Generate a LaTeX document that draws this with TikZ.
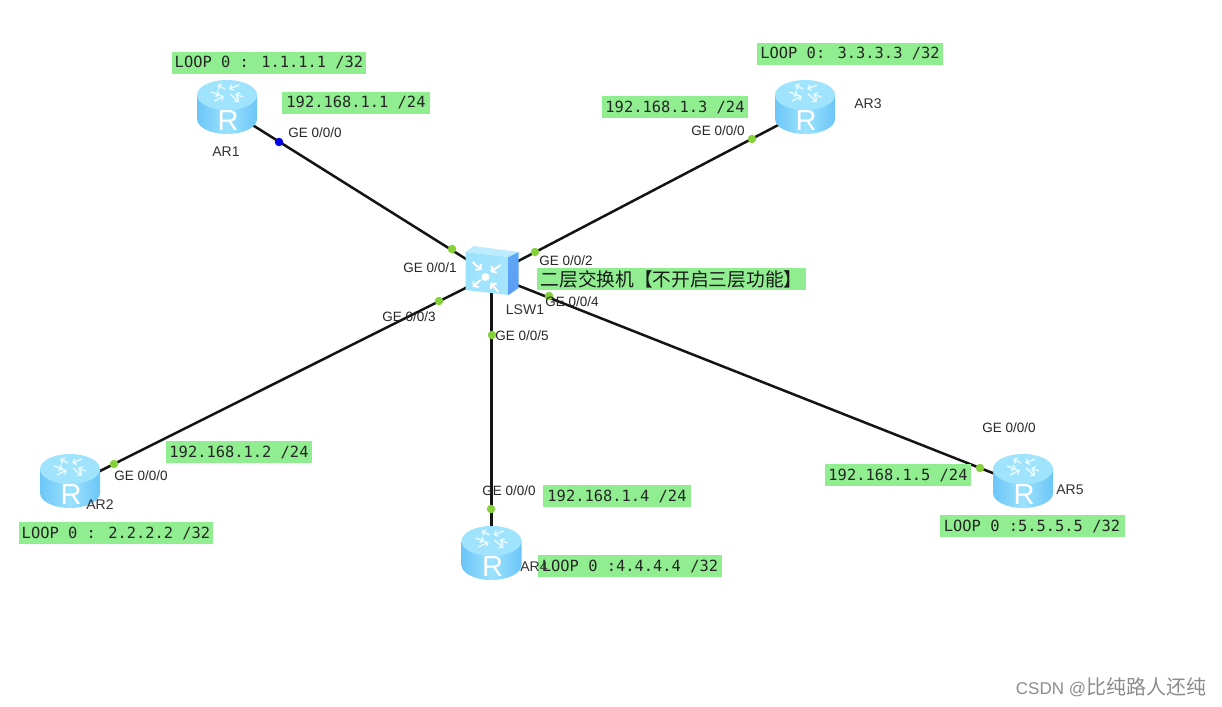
\documentclass[tikz,border=0pt]{standalone}
\usepackage{fontspec}
\setmainfont{Liberation Sans}
\newfontfamily\monof{DejaVu Sans Mono}
\newfontfamily\cjkf{Noto Sans CJK SC}
\usetikzlibrary{arrows.meta}
\definecolor{lab}{HTML}{90EE90}
\definecolor{dotg}{HTML}{86D13A}
\definecolor{wire}{HTML}{141414}
\definecolor{bodyA}{HTML}{6CC6F8}
\definecolor{bodyB}{HTML}{9CE2FC}
\definecolor{topA}{HTML}{9FE4FC}
\definecolor{sideB}{HTML}{5B9DF5}
\tikzset{
 x=1pt,y=-1pt,
 iplabel/.style={fill=lab,inner sep=0pt,text=black!85,font=\monof\fontsize{15.4}{15.4}\selectfont,minimum height=22pt},
 cnlabel/.style={fill=lab,inner sep=0pt,text=black!90,font=\cjkf\fontsize{18.7}{18.7}\selectfont,minimum height=22pt},
 port/.style={inner sep=0pt,text=black!85,font=\fontsize{13.5}{13.5}\selectfont},
 devname/.style={inner sep=0pt,text=black!80,font=\fontsize{14}{14}\selectfont},
 anchorbox/.style={inner sep=0pt,minimum size=1pt},
 link/.style={draw=wire,line width=2.5pt},
 pdot/.style={circle,inner sep=0pt,minimum size=8.5pt,fill=dotg},
 iconarrow/.style={draw=white,line width=1.5pt,opacity=.75,-{Straight Barb[length=3pt,width=6pt]}},
 swarrow/.style={draw=white,line width=1.9pt,-{Straight Barb[length=3.5pt,width=8pt]}},
 routericon/.pic={
  \shade[left color=bodyA,right color=bodyA,middle color=bodyB]
    (-30,-12) -- (-30,12) arc[start angle=180,end angle=360,x radius=30,y radius=-15] -- (30,-12) -- cycle;
  \fill[topA] (0,-12) ellipse[x radius=30,y radius=15];
  \draw[iconarrow] (-2,-18) -- (-10,-22);
  \draw[iconarrow] (12,-22) -- (2,-18);
  \draw[iconarrow] (-13,-6) -- (-3,-11);
  \draw[iconarrow] (3,-13) -- (12,-5);
  \draw[iconarrow] (-16,-15) -- (-7,-12);
  \draw[iconarrow] (16,-10) -- (8,-13);
  \node[inner sep=0pt,text=white,font=\fontsize{29}{29}\selectfont] (letter) at (1,14) {R};
 },
 switchicon/.pic={
  \fill[topA!70!white] (-26,-23) -- (-18,-29) -- (27,-23) -- (17,-18) -- cycle;
  \shade[top color=sideB!75!bodyA,bottom color=sideB] (17,-18) -- (27,-23) -- (27,13) -- (17,20) -- cycle;
  \shade[left color=bodyB,right color=bodyB!90!white] (-26,-23) -- (17,-18) -- (17,20) -- (-26,15) -- cycle;
  \fill[white] (-6,2) circle[radius=4];
  \draw[swarrow] (-19,-13) -- (-10,-5);
  \draw[swarrow] (9,-10) -- (-1,-3);
  \draw[swarrow] (-11,5) -- (-19,12);
  \draw[swarrow] (7,17) -- (-1,8);
 }
}
\begin{document}
\begin{tikzpicture}
\useasboundingbox (0,0) rectangle (1222,706);
\fill[white] (0,0) rectangle (1222,706);
% anchors
\node[anchorbox] (ar1) at (227,109) {};
\node[anchorbox] (ar2) at (70,486) {};
\node[anchorbox] (ar3) at (805,111) {};
\node[anchorbox] (ar4) at (491.5,553) {};
\node[anchorbox] (ar5) at (1023,485) {};
\node[anchorbox] (sw) at (491.5,275) {};
% links
\draw[link] (ar1.center) -- (sw.center);
\draw[link] (ar2.center) -- (sw.center);
\draw[link] (ar3.center) -- (sw.center);
\draw[link] (ar4.center) -- (sw.center);
\draw[link] (ar5.center) -- (sw.center);
% devices
\pic[shift={(0,-2)}] (iconar1) at (ar1) {routericon};
\pic[shift={(0,-5)}] (iconar2) at (ar2) {routericon};
\pic[shift={(0,-4)}] (iconar3) at (ar3) {routericon};
\pic (iconar4) at (ar4) {routericon};
\pic[shift={(0,-4)}] (iconar5) at (ar5) {routericon};
\pic (iconsw) at (sw) {switchicon};
% port dots
\node[pdot,fill=blue!90!black] (d1) at (279,142) {};
\node[pdot] (d2) at (452,249) {};
\node[pdot] (d3) at (535,252) {};
\node[pdot] (d4) at (439,301) {};
\node[pdot] (d5) at (549,296) {};
\node[pdot] (d6) at (492,335) {};
\node[pdot] (d7) at (752,139) {};
\node[pdot] (d8) at (114,464) {};
\node[pdot] (d9) at (491,509) {};
\node[pdot] (d10) at (980,468) {};
% green labels
\node[iplabel,minimum width=194pt] (l1) at (269,63) {LOOP 0 : 1.1.1.1 /32};
\node[iplabel,minimum width=148pt] (i1) at (356,103) {192.168.1.1 /24};
\node[iplabel,minimum width=186pt] (l3) at (850,54) {LOOP 0: 3.3.3.3 /32};
\node[iplabel,minimum width=146pt] (i3) at (675,107) {192.168.1.3 /24};
\node[iplabel,minimum width=146pt] (i2) at (239,452) {192.168.1.2 /24};
\node[iplabel,minimum width=194pt] (l2) at (116,533) {LOOP 0 : 2.2.2.2 /32};
\node[iplabel,minimum width=148pt] (i4) at (617,496) {192.168.1.4 /24};
\node[iplabel,minimum width=184pt] (l4) at (630,566) {LOOP 0 :4.4.4.4 /32};
\node[iplabel,minimum width=146pt] (i5) at (898,475) {192.168.1.5 /24};
\node[iplabel,minimum width=185pt] (l5) at (1032,526) {LOOP 0 :5.5.5.5 /32};
\node[cnlabel,minimum width=269pt] (cn) at (671.5,279) {二层交换机【不开启三层功能】};
% port names
\node[port] (p1) at (315,133) {GE 0/0/0};
\node[port] (p2) at (430,268) {GE 0/0/1};
\node[port] (p3) at (566,261) {GE 0/0/2};
\node[port] (p4) at (409,317) {GE 0/0/3};
\node[port] (p5) at (572,302) {GE 0/0/4};
\node[port] (p6) at (522,336) {GE 0/0/5};
\node[port] (p7) at (718,131) {GE 0/0/0};
\node[port] (p8) at (141,476) {GE 0/0/0};
\node[port] (p9) at (509,491) {GE 0/0/0};
\node[port] (p10) at (1009,428) {GE 0/0/0};
% device names
\node[devname] (n1) at (226,152) {AR1};
\node[devname] (n2) at (100,505) {AR2};
\node[devname] (n3) at (868,104) {AR3};
\node[devname] (n4) at (534,567) {AR4};
\node[devname] (n5) at (1070,490) {AR5};
\node[devname] (n6) at (525,310) {LSW1};
% watermark
\node[inner sep=0pt,text=black!45,font=\fontsize{17}{17}\selectfont] (wm) at (1111,687) {CSDN @{\cjkf\fontsize{20}{20}\selectfont 比纯路人还纯}};
\end{tikzpicture}
\end{document}
